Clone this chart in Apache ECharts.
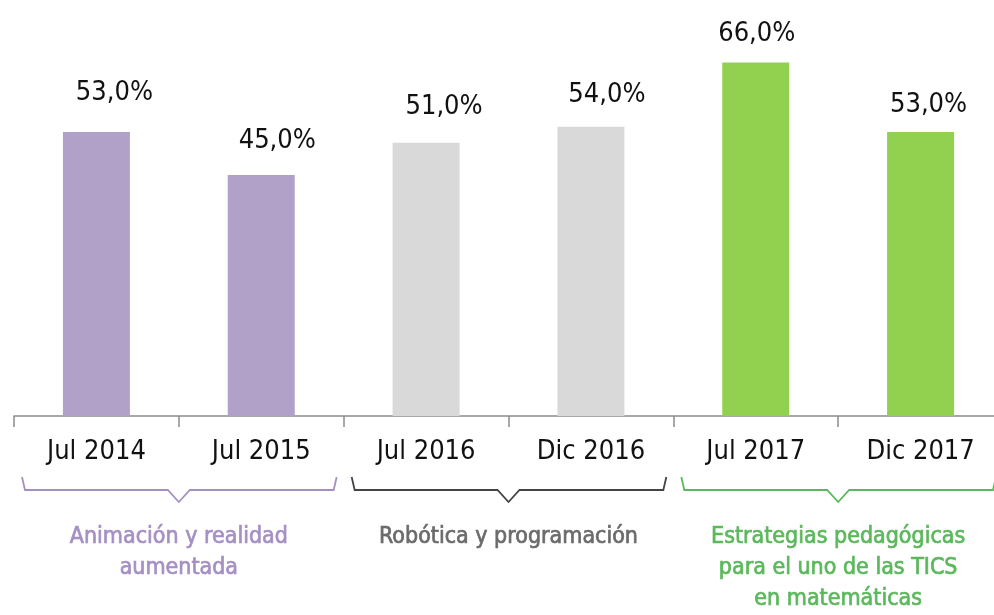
<!DOCTYPE html>
<html>
<head>
<meta charset="utf-8">
<script src="https://cdn.jsdelivr.net/npm/echarts@6/dist/echarts.min.js"></script>
<style>
  html, body { margin: 0; padding: 0; background: #fff; overflow: hidden; }
  #container { width: 1003px; height: 615px; }
</style>
</head>
<body>
<div id="container"></div>
<script>
var categories = ['Jul 2014', 'Jul 2015', 'Jul 2016', 'Dic 2016', 'Jul 2017', 'Dic 2017'];
var values = [53, 45, 51, 54, 66, 53];
var groups = ['Animación y realidad\naumentada', 'Robótica y programación', 'Estrategias pedagógicas\npara el uno de las TICS\nen matemáticas'];
var groupOf = [0, 0, 1, 1, 2, 2];

// layout / style
var barColors = ['#b1a0c7', '#d9d9d9', '#92d050'];
var groupTextColors = ['#a590c4', '#6b6b6b', '#5cb85c'];
var braceColors = ['#a590c4', '#444444', '#5cb85c'];
var labelNudge = [[18, -21], [16, -15], [18, -17], [16, -13], [1, -10], [8, -9]];
var font = '"Liberation Sans Narrow", "DejaVu Sans Condensed", "Roboto", sans-serif';

var dom = document.getElementById('container');
var myChart = echarts.init(dom);

var barData = values.map(function (v, i) {
  return {
    value: v,
    itemStyle: { color: barColors[groupOf[i]] },
    label: { offset: labelNudge[i] }
  };
});

var groupRich = {};
groupTextColors.forEach(function (c, i) {
  groupRich['g' + i] = {
    color: c,
    textBorderColor: c,
    textBorderWidth: 0.7,
    fontSize: 23,
    lineHeight: 31,
    fontFamily: font
  };
});

var option = {
  animation: false,
  grid: { left: 14, right: 0, top: 41, bottom: 197, containLabel: false },
  xAxis: [{
    type: 'category',
    data: categories,
    axisLine: { lineStyle: { color: '#8c8c8c', width: 1.5 } },
    axisTick: { show: true, length: 11, alignWithLabel: false, lineStyle: { color: '#8c8c8c', width: 1.5 } },
    axisLabel: { margin: 22, fontSize: 27, color: '#111', fontFamily: font, interval: 0 }
  }, {
    type: 'category',
    position: 'bottom',
    data: groups,
    axisLine: { show: false },
    axisTick: { show: false },
    axisLabel: {
      interval: 0,
      hideOverlap: false,
      margin: 106,
      align: 'center',
      fontSize: 23,
      lineHeight: 31,
      fontFamily: font,
      rich: groupRich,
      formatter: function (value, index) {
        return value.split('\n').map(function (line) {
          return '{g' + index + '|' + line + '}';
        }).join('\n');
      }
    }
  }],
  yAxis: { type: 'value', min: 0, max: 70, show: false },
  series: [{
    type: 'bar',
    xAxisIndex: 0,
    barWidth: 67,
    data: barData,
    label: {
      show: true,
      position: 'top',
      fontSize: 27,
      color: '#111',
      fontFamily: font,
      formatter: function (p) { return p.value.toFixed(1).replace('.', ',') + '%'; }
    }
  }]
};
myChart.setOption(option);

// curly braces below each group
var c0 = myChart.convertToPixel({ xAxisIndex: 0 }, 0);
var c1 = myChart.convertToPixel({ xAxisIndex: 0 }, 1);
var band = c1 - c0;
var yTop = 477, yMid = 490, yTip = 502;
var braces = groups.map(function (g, gi) {
  var idx = groupOf.indexOf(gi);
  var left = myChart.convertToPixel({ xAxisIndex: 0 }, idx) - band / 2 + 8;
  var right = left + band * 2 - 15;
  var cx = myChart.convertToPixel({ xAxisIndex: 1 }, gi);
  return {
    type: 'polyline',
    shape: {
      points: [[left, yTop], [left + 3, yMid], [cx - 11, yMid], [cx, yTip], [cx + 11, yMid], [right - 3, yMid], [right, yTop]]
    },
    style: { stroke: braceColors[gi], lineWidth: 1.8, fill: null }
  };
});
myChart.setOption({ graphic: braces });

window.addEventListener('resize', function () {
  myChart.resize();
});
</script>
</body>
</html>
